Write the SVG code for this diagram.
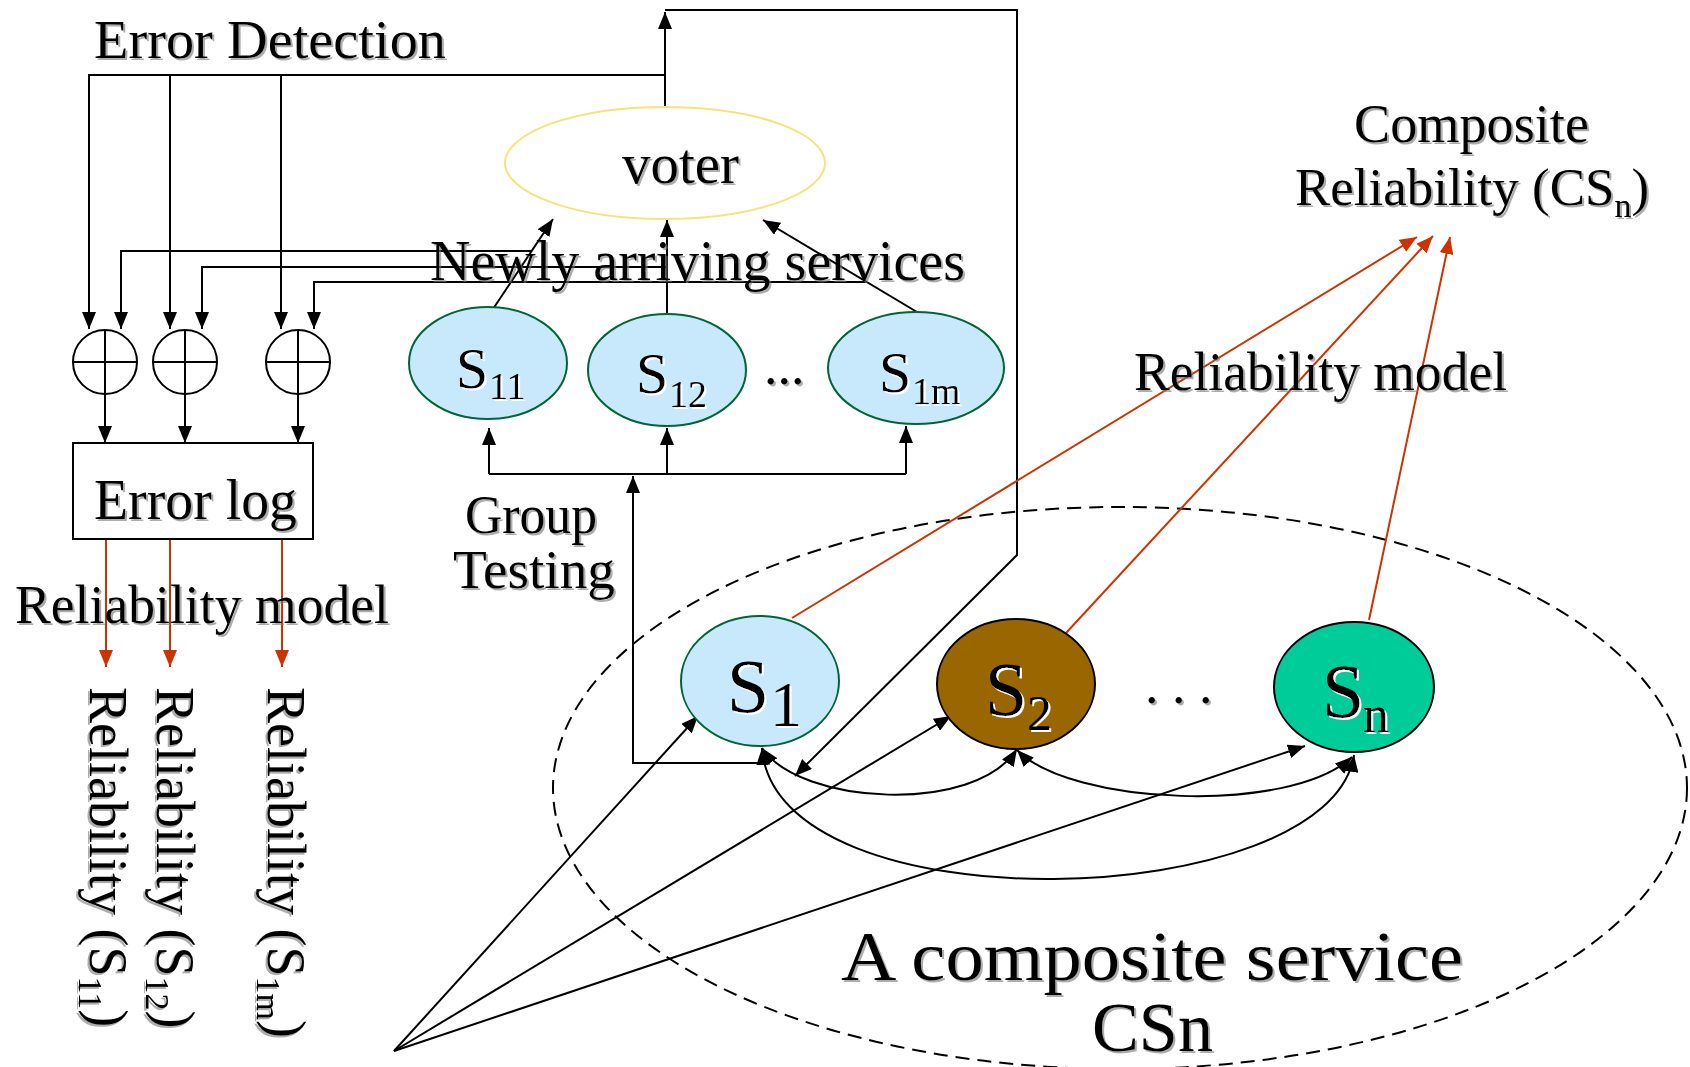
<svg xmlns="http://www.w3.org/2000/svg" width="1690" height="1067" viewBox="0 0 1690 1067">
<style>
  .t { font-family: "Liberation Serif", "DejaVu Serif", serif; fill: #000; filter: url(#sh); }
  .tw { font-family: "Liberation Serif", "DejaVu Serif", serif; fill: #000; filter: url(#shw); }
  .ln { fill: none; stroke: #000; stroke-width: 2; }
  .ar { fill: none; stroke: #000; stroke-width: 2; marker-end: url(#ah); }
  .ar2 { fill: none; stroke: #000; stroke-width: 2; marker-end: url(#ah); marker-start: url(#ah); }
  .red { fill: none; stroke: #CC3300; stroke-width: 2; marker-end: url(#ahr); }
  .sv { fill: #C8E8FC; stroke: #006633; stroke-width: 2; }
  .xor { fill: #fff; stroke: #000; stroke-width: 2; }
</style>
<defs>
  <filter id="sh" x="-10%" y="-20%" width="130%" height="150%">
    <feDropShadow dx="2" dy="2" stdDeviation="0.6" flood-color="#777" flood-opacity="0.6"/>
  </filter>
  <filter id="shw" x="-10%" y="-20%" width="130%" height="150%">
    <feDropShadow dx="2" dy="2" stdDeviation="0.3" flood-color="#fff" flood-opacity="1"/>
  </filter>
  <marker id="ah" markerUnits="userSpaceOnUse" markerWidth="18" markerHeight="14" refX="17" refY="7" orient="auto-start-reverse">
    <path d="M0,0 L17,7 L0,14 z" fill="#000"/>
  </marker>
  <marker id="ahr" markerUnits="userSpaceOnUse" markerWidth="18" markerHeight="14" refX="17" refY="7" orient="auto">
    <path d="M0,0 L17,7 L0,14 z" fill="#CC3300"/>
  </marker>
</defs>
<rect width="1690" height="1067" fill="#fff"/>

<g id="composite-service">
  <ellipse cx="1120" cy="788" rx="567" ry="281" fill="none" stroke="#000" stroke-width="2" stroke-dasharray="14 8"/>
  <text class="t" x="841" y="980" font-size="70" textLength="622" lengthAdjust="spacingAndGlyphs">A composite service</text>
  <text class="t" x="1092" y="1051" font-size="70" textLength="121" lengthAdjust="spacingAndGlyphs">CSn</text>
</g>

<g id="connectors">
  <!-- error detection -->
  <path class="ar" d="M665,107 L665,12"/>
  <path class="ar" d="M665,10 L1017,10 L1017,555 L795,776"/>
  <path class="ar" d="M665,75 L89,75 L89,329"/>
  <path class="ar" d="M170,75 L170,329"/>
  <path class="ar" d="M281,75 L281,329"/>
  <!-- feedback lines -->
  <path class="ar" d="M532,251 L121,251 L121,329"/>
  <path class="ar" d="M667,267 L202,267 L202,329"/>
  <path class="ar" d="M867,282 L314,282 L314,329"/>
  <!-- services to voter -->
  <path class="ar" d="M489,315 L553,219"/>
  <path class="ar" d="M667,314 L667,220"/>
  <path class="ar" d="M922,315 L763,220"/>
  <!-- group testing -->
  <path class="ar" d="M762,763 L633,763 L633,476"/>
  <path class="ln" d="M489,474 L906,474"/>
  <path class="ar" d="M489,474 L489,428"/>
  <path class="ar" d="M667,474 L667,428"/>
  <path class="ar" d="M906,474 L906,426"/>
  <!-- xor to error log -->
  <path class="ar" d="M105,394 L105,443"/>
  <path class="ar" d="M185,394 L185,443"/>
  <path class="ar" d="M298,394 L298,443"/>
  <!-- reliability model (left) -->
  <path class="red" d="M106,539 L106,667"/>
  <path class="red" d="M170,539 L170,667"/>
  <path class="red" d="M282,539 L282,667"/>
  <!-- reliability model (right) -->
  <path class="red" d="M792,618 L1417,237"/>
  <path class="red" d="M1066,633 L1433,236"/>
  <path class="red" d="M1369,620 L1450,237"/>
  <!-- requests -->
  <path class="ar" d="M394,1051 L698,716"/>
  <path class="ar" d="M394,1051 L951,716"/>
  <path class="ar" d="M394,1051 L1305,746"/>
  <!-- interactions -->
  <path class="ar2" d="M762,748 C800,805 975,815 1017,749"/>
  <path class="ar2" d="M1017,750 C1070,805 1290,815 1352,757"/>
  <path class="ar2" d="M762,748 C775,930 1330,913 1354,755"/>
</g>

<g id="voter">
  <ellipse cx="665" cy="163" rx="160" ry="56" fill="#fff" stroke="#F6E47A" stroke-width="2"/>
  <text class="t" x="622" y="183" font-size="56" textLength="117" lengthAdjust="spacingAndGlyphs">voter</text>
</g>

<g id="s11">
  <ellipse class="sv" cx="488" cy="363" rx="79" ry="56"/>
  <text class="tw" font-size="58"><tspan x="456" y="388">S</tspan><tspan x="489" y="399" font-size="38">11</tspan></text>
</g>
<g id="s12">
  <ellipse class="sv" cx="667" cy="370" rx="79" ry="56"/>
  <text class="tw" font-size="58"><tspan x="636" y="393">S</tspan><tspan x="669" y="407" font-size="38">12</tspan></text>
</g>
<text class="t" x="764" y="384" font-size="54">...</text>
<g id="s1m">
  <ellipse class="sv" cx="916" cy="368" rx="88" ry="56"/>
  <text class="tw" font-size="58"><tspan x="879" y="392">S</tspan><tspan x="912" y="404" font-size="38">1m</tspan></text>
</g>

<g id="xor1">
  <circle class="xor" cx="105" cy="362" r="32"/>
  <path class="ln" d="M105,330 L105,394 M73,362 L137,362"/>
</g>
<g id="xor2">
  <circle class="xor" cx="185" cy="362" r="32"/>
  <path class="ln" d="M185,330 L185,394 M153,362 L217,362"/>
</g>
<g id="xor3">
  <circle class="xor" cx="298" cy="362" r="32"/>
  <path class="ln" d="M298,330 L298,394 M266,362 L330,362"/>
</g>

<g id="error-log">
  <rect x="73" y="443" width="240" height="96" fill="#fff" stroke="#000" stroke-width="2"/>
  <text class="t" x="94" y="519" font-size="56" textLength="203" lengthAdjust="spacingAndGlyphs">Error log</text>
</g>

<g id="s1">
  <ellipse class="sv" cx="760" cy="681" rx="79" ry="65"/>
  <text class="tw" font-size="76"><tspan x="727" y="712">S</tspan><tspan x="770" y="726" font-size="64">1</tspan></text>
</g>
<g id="s2">
  <ellipse cx="1016" cy="684" rx="79" ry="65" fill="#996600" stroke="#000" stroke-width="2"/>
  <text class="tw" font-size="76"><tspan x="985" y="715">S</tspan><tspan x="1027" y="730" font-size="50">2</tspan></text>
</g>
<text class="t" x="1145" y="703" font-size="54">. . .</text>
<g id="sn">
  <ellipse cx="1354" cy="687" rx="80" ry="65" fill="#00CC99" stroke="#000" stroke-width="2"/>
  <text class="tw" font-size="76"><tspan x="1322" y="717">S</tspan><tspan x="1363" y="732" font-size="52">n</tspan></text>
</g>

<g id="labels">
  <text class="t" x="94" y="58" font-size="54" textLength="352" lengthAdjust="spacingAndGlyphs">Error Detection</text>
  <text class="t" x="430" y="280" font-size="56" textLength="535" lengthAdjust="spacingAndGlyphs">Newly arriving services</text>
  <text class="t" x="465" y="533" font-size="54" textLength="132" lengthAdjust="spacingAndGlyphs">Group</text>
  <text class="t" x="453" y="588" font-size="54" textLength="162" lengthAdjust="spacingAndGlyphs">Testing</text>
  <text class="t" x="15" y="623" font-size="54" textLength="374" lengthAdjust="spacingAndGlyphs">Reliability model</text>
  <text class="t" x="1134" y="390" font-size="54" textLength="373" lengthAdjust="spacingAndGlyphs">Reliability model</text>
  <text class="t" x="1354" y="142" font-size="54" textLength="235" lengthAdjust="spacingAndGlyphs">Composite</text>
  <text class="t" x="1295" y="205" font-size="53">Reliability (CS<tspan font-size="34" dy="12">n</tspan><tspan dy="-12">)</tspan></text>
  <text class="t" transform="translate(90,687) rotate(90)" font-size="54">Reliability (S<tspan font-size="34" dy="11">11</tspan><tspan dy="-11">)</tspan></text>
  <text class="t" transform="translate(157,687) rotate(90)" font-size="54">Reliability (S<tspan font-size="34" dy="11">12</tspan><tspan dy="-11">)</tspan></text>
  <text class="t" transform="translate(268,687) rotate(90)" font-size="54">Reliability (S<tspan font-size="34" dy="11">1m</tspan><tspan dy="-11">)</tspan></text>
</g>
</svg>
